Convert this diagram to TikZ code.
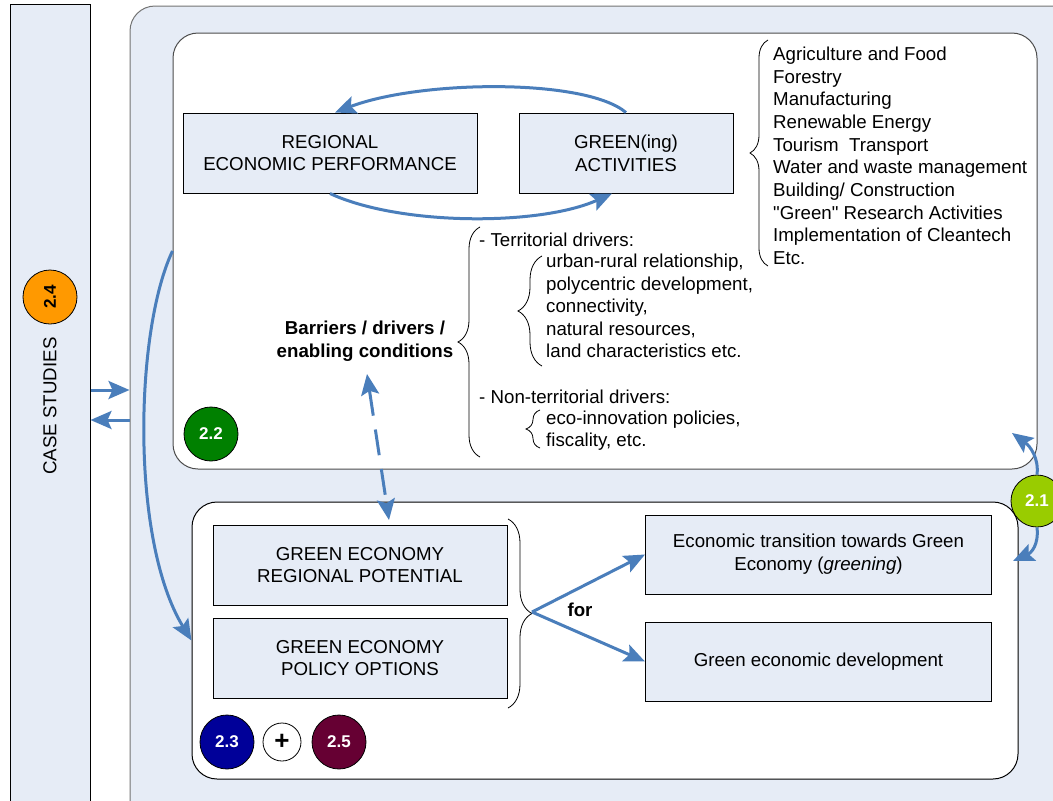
\documentclass[tikz,border=0pt]{standalone}
\usepackage{fontspec}
\setmainfont{Liberation Sans}
\usetikzlibrary{arrows.meta,decorations.pathreplacing}

\definecolor{paleblue}{RGB}{230,236,246}
\definecolor{arrowblue}{RGB}{74,126,187}
\definecolor{badgeorange}{RGB}{255,153,0}
\definecolor{badgegreen}{RGB}{0,128,0}
\definecolor{badgelime}{RGB}{153,204,0}
\definecolor{badgenavy}{RGB}{0,0,153}
\definecolor{badgewine}{RGB}{102,0,51}
\newcommand\straightdq{\XeTeXglyph\XeTeXcharglyph"22\relax} % plain " glyph

\begin{document}
\begin{tikzpicture}[x=1pt,y=-1pt,
    every node/.style={font=\fontsize{18.7}{22.7}\selectfont},
    panel/.style={draw, line width=1pt, rounded corners=25pt, inner sep=0pt},
    grbox/.style={draw, line width=1pt, fill=paleblue, minimum width=294pt, minimum height=80pt, align=center},
    badge/.style={circle, draw, line width=0.8pt, minimum size=54pt, inner sep=0pt, text=white, font=\fontsize{17}{17}\selectfont\bfseries},
    txt/.style={anchor=base west, inner sep=0pt},
    tip/.tip={Stealth[length=21pt,width=18pt,inset=4pt]},
    arr/.style={draw=arrowblue, line width=3pt, -tip},
    curly/.style={decorate, decoration={brace, amplitude=#1}, line width=0.8pt},
    curly/.default=20]
  \useasboundingbox (0,0) rectangle (1053,801);
  \clip (0,0) rectangle (1053,801);

  % the frames
  \node[draw, line width=1pt, fill=paleblue, minimum width=80pt, minimum height=826pt, inner sep=0pt] (case) at (50,417) {};
  \node[panel, draw=black!55, fill=paleblue, minimum width=950pt, minimum height=824pt] (outer) at (605,418) {};
  \node[panel, draw=black!70, fill=white, minimum width=864pt, minimum height=436pt] (upper) at (605,251) {};
  \node[panel, fill=white, minimum width=826pt, minimum height=277pt] (lower) at (605,640.5) {};

  \node[rotate=90] (cstext) at (50,406) {CASE STUDIES};
  \node[badge, fill=badgeorange, text=black, rotate=90] (b24) at (50,297) {2.4};

  % upper panel
  \node[grbox] (rep) at (330,153) {REGIONAL\\ECONOMIC PERFORMANCE};
  \node[grbox, minimum width=214pt] (act) at (626,153) {GREEN(ing)\\ACTIVITIES};

  \foreach \t [count=\i] in {Agriculture and Food, Forestry, Manufacturing, Renewable Energy,
      Tourism~ Transport, Water and waste management, Building/ Construction,
      \straightdq Green\straightdq\ Research Activities, Implementation of Cleantech, Etc.}
    \node[txt] (sector\i) at (773,{60.5+22.67*(\i-1)}) {\t};
  \draw[curly=18] (768,266) -- (768,40); % brace of the sectors

  \node[align=center, font=\fontsize{18.7}{22.7}\selectfont\bfseries] (barr) at (365,341) {Barriers / drivers /\\enabling conditions};
  \draw[curly=22] (480,457) -- (480,227); % brace of all drivers

  \node[txt] (terr) at (479,246.5) {- Territorial drivers:};
  \foreach \t [count=\i] in {{urban-rural relationship,}, {polycentric development,}, {connectivity,},
      {natural resources,}, land characteristics etc.}
    \node[txt] (terr\i) at (546,{267.5+22.5*(\i-1)}) {\t};
  \draw[curly=24] (542,366) -- (542,256); % territorial brace

  \node[txt] (nonterr) at (479,403.5) {- Non-territorial drivers:};
  \node[txt] (nonterr1) at (546,424.5) {eco-innovation policies,};
  \node[txt] (nonterr2) at (546,446.5) {fiscality, etc.};
  \draw[curly=14] (540,448) -- (540,410); % non-territorial brace

  \node[badge, fill=badgegreen] (b22) at (211,434) {2.2};

  % lower panel
  \node[grbox] (pot) at (360,565) {GREEN ECONOMY\\REGIONAL POTENTIAL};
  \node[grbox] (pol) at (360,658) {GREEN ECONOMY\\POLICY OPTIONS};
  \node[grbox, minimum width=346pt, minimum height=79pt] (trans) at (818.5,554.5) {Economic transition towards Green\\Economy (\textit{greening})};
  \node[grbox, minimum width=346pt, minimum height=79pt] (gdev) at (818.5,661.5) {Green economic development};
  \draw[curly=24] (508,519) -- (508,708); % brace of the two outputs
  \coordinate (fork) at (532,612);
  \node[font=\fontsize{18.7}{22.7}\selectfont\bfseries] (for) at (580,610) {for};

  \node[badge, fill=badgenavy] (b23) at (227,742) {2.3};
  \node[badge, fill=white, text=black, minimum size=38pt, font=\fontsize{26}{26}\selectfont\bfseries] (plus) at (282,742) {+};
  \node[badge, fill=badgewine] (b25) at (339,742) {2.5};

  \node[badge, fill=badgelime, minimum size=52pt] (b21) at (1037,501) {2.1};

  % connectors
  \draw[arr] (act.north) .. controls (585,78) and (420,80) .. ([xshift=5pt]rep.north);
  \draw[arr] (rep.south) .. controls (400,226) and (540,226) .. ([xshift=-14pt]act.south);
  \draw[arr] (upper.west) .. controls (135,330) and (130,540) .. (lower.west);
  \draw[arr] (case.east |- 0,390) -- (outer.west |- 0,390);
  \draw[arr] (outer.west |- 0,420) -- (case.east |- 0,420);
  \coordinate (dtop) at (367,374);
  \coordinate (dbot) at (389,520);
  \draw[arr, tip-tip, dash pattern=on 26pt off 14pt] (dtop) -- (dbot);
  \draw[arr] (fork) -- (trans.west);
  \draw[arr] (fork) -- (gdev.west);
  \coordinate (up21) at (1012,433);
  \coordinate (dn21) at (1013,561);
  \draw[arr] (b21.north) .. controls (1039,458) and (1030,446) .. (up21);
  \draw[arr] (b21.south) .. controls (1039,545) and (1031,553) .. (dn21);
\end{tikzpicture}
\end{document}
